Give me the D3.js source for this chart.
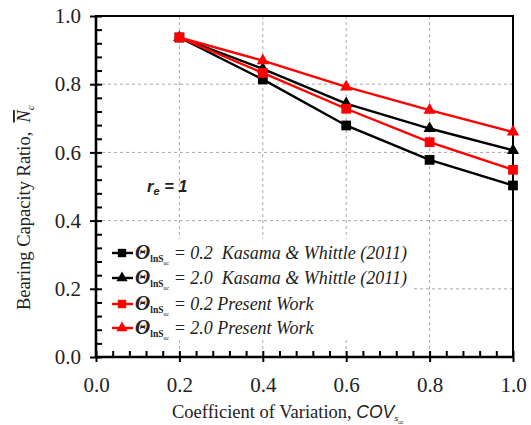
<!DOCTYPE html>
<html>
  <head>
    <meta charset="UTF-8" />
    <style>
      body {
        margin: 0;
        background: #fff;
      }
      svg text {
        white-space: pre;
      }
      .serif {
        font-family: "Liberation Serif", "Times New Roman", serif;
      }
    </style>
  </head>
  <body>
    <svg id="chart" width="531" height="425"></svg>

    <script src="https://d3js.org/d3.v7.min.js"></script>
    <script>
      // values
      const covValues = [0.2, 0.4, 0.6, 0.8, 1.0];
      const kasama02 = [0.937, 0.814, 0.679, 0.578, 0.503];
      const kasama20 = [0.937, 0.845, 0.743, 0.67, 0.606];
      const present02 = [0.937, 0.833, 0.728, 0.63, 0.549];
      const present20 = [0.937, 0.869, 0.792, 0.724, 0.66];

      const thetaValues = ["0.2", "2.0", "0.2", "2.0"];
      const sourceLabels = [
        "  Kasama & Whittle (2011)",
        "  Kasama & Whittle (2011)",
        " Present Work",
        " Present Work",
      ];
      const seriesColors = ["#000", "#000", "#ff0000", "#ff0000"];
      const seriesShapes = ["square", "triangle", "square", "triangle"];
      const seriesValues = [kasama02, kasama20, present02, present20];

      const xTicks = [0.0, 0.2, 0.4, 0.6, 0.8, 1.0];
      const yTicks = [0.0, 0.2, 0.4, 0.6, 0.8, 1.0];

      const plotLeft = 96,
        plotRight = 513,
        plotTop = 16,
        plotBottom = 357;

      const svg = d3.select("#chart");

      const x = d3.scaleLinear().domain([0, 1]).range([plotLeft, plotRight]);
      const y = d3.scaleLinear().domain([0, 1]).range([plotBottom, plotTop]);

      const serif = "'Liberation Serif', 'Times New Roman', serif";
      const sans = "'Liberation Sans', Arial, sans-serif";

      // grid
      const grid = svg.append("g");
      grid
        .selectAll(".gx")
        .data(xTicks.filter((d) => d > 0 && d < 1))
        .enter()
        .append("line")
        .attr("x1", (d) => x(d))
        .attr("x2", (d) => x(d))
        .attr("y1", plotTop)
        .attr("y2", plotBottom);
      grid
        .selectAll(".gy")
        .data(yTicks.filter((d) => d > 0 && d < 1))
        .enter()
        .append("line")
        .attr("x1", plotLeft)
        .attr("x2", plotRight)
        .attr("y1", (d) => y(d))
        .attr("y2", (d) => y(d));
      grid
        .selectAll("line")
        .attr("stroke", "#a8a8a8")
        .attr("stroke-width", 1)
        .attr("stroke-dasharray", "3,3");

      // legend background hides grid
      svg
        .append("rect")
        .attr("x", 100)
        .attr("y", 239)
        .attr("width", 312)
        .attr("height", 100)
        .attr("fill", "#fff");

      // frame
      svg
        .append("rect")
        .attr("x", plotLeft)
        .attr("y", plotTop)
        .attr("width", plotRight - plotLeft)
        .attr("height", plotBottom - plotTop)
        .attr("fill", "none")
        .attr("stroke", "#000")
        .attr("stroke-width", 2);

      // axes: minor ticks inward, major ticks crossing
      const minorX = d3.range(0, 1.0001, 0.04);
      const minorY = d3.range(0, 1.0001, 0.04);

      function styleAxis(g) {
        g.select(".domain").remove();
        g.selectAll("line").attr("stroke", "#000").attr("stroke-width", 2);
      }

      svg
        .append("g")
        .attr("transform", `translate(0,${plotBottom})`)
        .call(d3.axisBottom(x).tickValues(minorX).tickSize(-6).tickFormat(""))
        .call(styleAxis);
      svg
        .append("g")
        .attr("transform", `translate(0,${plotBottom})`)
        .call(d3.axisBottom(x).tickValues(xTicks).tickSize(5).tickFormat(""))
        .call(styleAxis);
      svg
        .append("g")
        .attr("transform", `translate(0,${plotBottom})`)
        .call(
          d3
            .axisBottom(x)
            .tickValues(xTicks)
            .tickSize(0)
            .tickPadding(20)
            .tickFormat(d3.format(".1f"))
        )
        .call((g) => g.select(".domain").remove())
        .selectAll("text")
        .style("font-family", serif)
        .style("font-size", "21px")
        .attr("fill", "#222");

      svg
        .append("g")
        .attr("transform", `translate(${plotLeft},0)`)
        .call(d3.axisLeft(y).tickValues(minorY).tickSize(-6).tickFormat(""))
        .call(styleAxis);
      svg
        .append("g")
        .attr("transform", `translate(${plotLeft},0)`)
        .call(d3.axisLeft(y).tickValues(yTicks).tickSize(6).tickFormat(""))
        .call(styleAxis);
      svg
        .append("g")
        .attr("transform", `translate(${plotLeft},0)`)
        .call(
          d3
            .axisLeft(y)
            .tickValues(yTicks)
            .tickSize(0)
            .tickPadding(15)
            .tickFormat(d3.format(".1f"))
        )
        .call((g) => g.select(".domain").remove())
        .selectAll("text")
        .style("font-family", serif)
        .style("font-size", "21px")
        .attr("fill", "#222");

      // thicker left/bottom spines
      svg
        .append("line")
        .attr("x1", plotLeft)
        .attr("x2", plotLeft)
        .attr("y1", plotTop)
        .attr("y2", plotBottom)
        .attr("stroke", "#000")
        .attr("stroke-width", 2.6);
      svg
        .append("line")
        .attr("x1", plotLeft)
        .attr("x2", plotRight)
        .attr("y1", plotBottom)
        .attr("y2", plotBottom)
        .attr("stroke", "#000")
        .attr("stroke-width", 2.6);

      // series
      const line = d3
        .line()
        .x((d, i) => x(covValues[i]))
        .y((d) => y(d));

      const sqSym = d3.symbol().type(d3.symbolSquare).size(95);
      const triSym = d3.symbol().type(d3.symbolTriangle).size(65);

      seriesValues.forEach((vals, s) => {
        const g = svg.append("g");
        g.append("path")
          .attr("d", line(vals))
          .attr("fill", "none")
          .attr("stroke", seriesColors[s])
          .attr("stroke-width", 2.4);
        g.selectAll("path.m")
          .data(vals)
          .enter()
          .append("path")
          .attr("class", "m")
          .attr("d", seriesShapes[s] === "square" ? sqSym() : triSym())
          .attr("transform", (d, i) => `translate(${x(covValues[i])},${y(d)})`)
          .attr("fill", seriesColors[s]);
      });

      // legend
      const legendY = [253, 278, 304, 328];
      thetaValues.forEach((tv, i) => {
        const g = svg.append("g");
        g.append("line")
          .attr("x1", 112)
          .attr("x2", 133)
          .attr("y1", legendY[i])
          .attr("y2", legendY[i])
          .attr("stroke", seriesColors[i])
          .attr("stroke-width", 2.4);
        g.append("path")
          .attr(
            "d",
            seriesShapes[i] === "square"
              ? d3.symbol().type(d3.symbolSquare).size(70)()
              : d3.symbol().type(d3.symbolTriangle).size(55)()
          )
          .attr("transform", `translate(122,${legendY[i]})`)
          .attr("fill", seriesColors[i]);

        const t = g
          .append("text")
          .attr("class", "serif")
          .attr("x", 135)
          .attr("y", legendY[i] + 6)
          .attr("fill", "#222");
        t.append("tspan")
          .attr("font-size", "20px")
          .attr("font-weight", "bold")
          .attr("font-style", "italic")
          .text("\u0398");
        t.append("tspan")
          .attr("font-size", "9.5px")
          .attr("font-weight", "bold")
          .attr("dy", 3)
          .text("lnS");
        t.append("tspan").attr("font-size", "6px").attr("dy", 3).text("uc");
        t.append("tspan")
          .attr("font-size", "18px")
          .attr("font-style", "italic")
          .attr("dy", -6)
          .text(" = " + tv + sourceLabels[i]);
      });

      // r_e = 1 annotation
      const re = svg
        .append("text")
        .attr("x", 147)
        .attr("y", 192)
        .style("font-family", sans)
        .attr("font-weight", "bold")
        .attr("font-style", "italic")
        .attr("font-size", "16.5px")
        .attr("fill", "#222");
      re.append("tspan").text("r");
      re.append("tspan").attr("font-size", "11px").attr("dy", 3).text("e");
      re.append("tspan").attr("dy", -3).text(" = 1");

      // axis titles
      const xt = svg
        .append("text")
        .attr("class", "serif")
        .attr("x", 172)
        .attr("y", 418)
        .attr("font-size", "18.5px")
        .attr("fill", "#222");
      xt.append("tspan").text("Coefficient of Variation, ");
      xt.append("tspan")
        .style("font-family", sans)
        .attr("font-style", "italic")
        .attr("font-size", "17.5px")
        .text("COV");
      xt.append("tspan")
        .style("font-family", sans)
        .attr("font-style", "italic")
        .attr("font-size", "8px")
        .attr("dy", 3)
        .text("s");
      xt.append("tspan")
        .style("font-family", sans)
        .attr("font-style", "italic")
        .attr("font-size", "5px")
        .attr("dy", 3)
        .text("uc");

      const yt = svg
        .append("text")
        .attr("class", "serif")
        .attr("transform", "translate(30,310) rotate(-90)")
        .attr("font-size", "18.5px")
        .attr("fill", "#222");
      yt.append("tspan").text("Bearing Capacity Ratio,  ");
      yt.append("tspan")
        .attr("font-style", "italic")
        .style("text-decoration", "overline")
        .text("N");
      yt.append("tspan")
        .attr("font-style", "italic")
        .attr("font-size", "11px")
        .attr("dy", 4)
        .text("c");
    </script>
  </body>
</html>
